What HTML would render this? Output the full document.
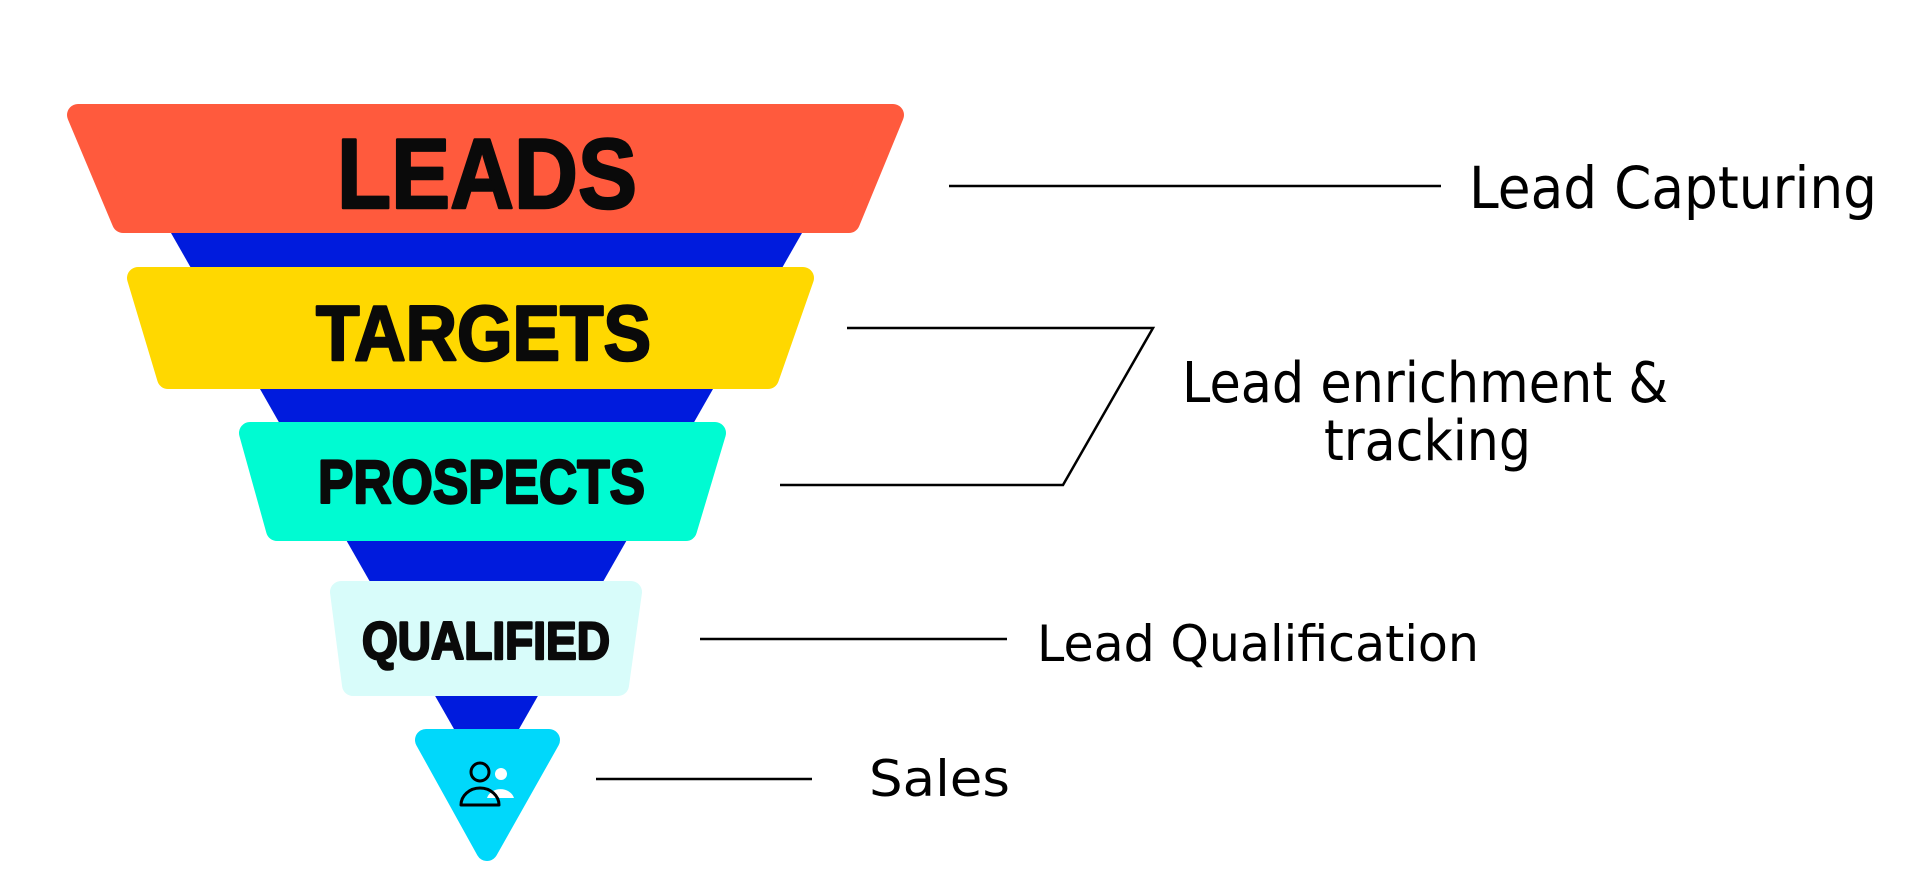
<!DOCTYPE html>
<html><head><meta charset="utf-8"><style>
html,body{margin:0;padding:0;background:#fff;width:1920px;height:896px;overflow:hidden}
svg{display:block}
.b{font-family:"Liberation Sans",sans-serif;font-weight:bold;fill:#0a0a0a;stroke:#0a0a0a;stroke-width:2.5;stroke-linejoin:round}
.r{font-family:"DejaVu Sans","Liberation Sans",sans-serif;fill:#000}
</style></head><body>
<svg width="1920" height="896" viewBox="0 0 1920 896" xmlns="http://www.w3.org/2000/svg">
<polygon points="171,233 802,233 486.5,786" fill="#001bdd"/>
<g stroke-linejoin="round" stroke-width="22">
<polygon points="78,115 893,115 849,222 123,222" fill="#ff5a3d" stroke="#ff5a3d"/>
<polygon points="138,278 803,278 768,378 168,378" fill="#ffd800" stroke="#ffd800"/>
<polygon points="250,433 715,433 686,530 277,530" fill="#00fbd2" stroke="#00fbd2"/>
<polygon points="341,592 631,592 618,685 353,685" fill="#d8fcfa" stroke="#d8fcfa"/>
<polygon points="426,740 549,740 487,850" fill="#00d8fb" stroke="#00d8fb" stroke-width="22"/>
</g>
<text class="b" x="337" y="208" font-size="99" textLength="300" lengthAdjust="spacingAndGlyphs">LEADS</text>
<text class="b" x="316" y="360" font-size="78" textLength="335" lengthAdjust="spacingAndGlyphs">TARGETS</text>
<text class="b" x="318" y="503" font-size="61" textLength="327" lengthAdjust="spacingAndGlyphs">PROSPECTS</text>
<text class="b" x="362" y="659" font-size="53" textLength="248" lengthAdjust="spacingAndGlyphs">QUALIFIED</text>
<circle cx="501" cy="774" r="6" fill="#fff"/>
<path d="M487,798 A14,12 0 0 1 514,798 Z" fill="#fff"/>
<circle cx="480" cy="772" r="9" fill="none" stroke="#000" stroke-width="3"/>
<path d="M461,805 A19,17 0 0 1 499,805 Z" fill="none" stroke="#000" stroke-width="3" stroke-linejoin="round"/>
<g stroke="#000" stroke-width="2.5" fill="none">
<line x1="949" y1="186" x2="1441" y2="186"/>
<polyline points="847,328 1153,328 1063,485 780,485"/>
<line x1="700" y1="639" x2="1007" y2="639"/>
<line x1="596" y1="779" x2="812" y2="779"/>
</g>
<text class="r" x="1469" y="208" font-size="58" textLength="408" lengthAdjust="spacingAndGlyphs">Lead Capturing</text>
<text class="r" x="1182" y="402" font-size="56" textLength="486" lengthAdjust="spacingAndGlyphs">Lead enrichment &amp;</text>
<text class="r" x="1324" y="460" font-size="56" textLength="207" lengthAdjust="spacingAndGlyphs">tracking</text>
<text class="r" x="1037" y="661" font-size="50" textLength="442" lengthAdjust="spacingAndGlyphs">Lead Qualification</text>
<text class="r" x="869" y="796" font-size="50" textLength="141" lengthAdjust="spacingAndGlyphs">Sales</text>
</svg>
</body></html>
